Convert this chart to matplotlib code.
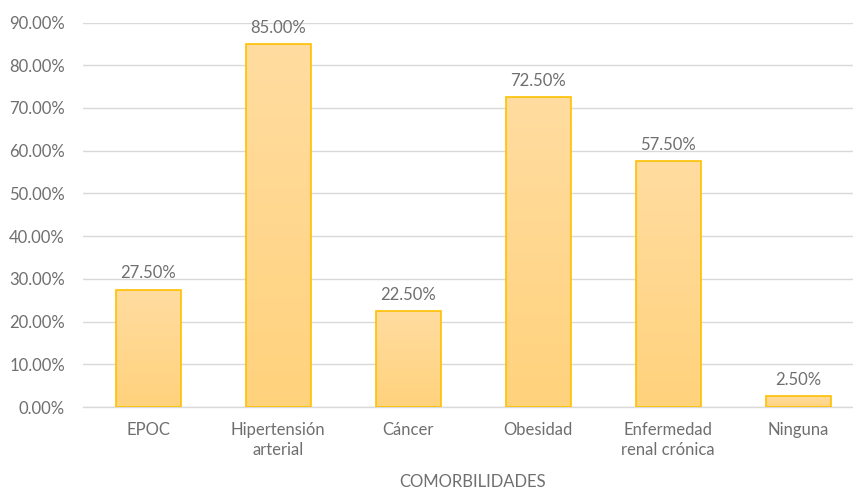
import numpy as np
import matplotlib
matplotlib.use("Agg")
import matplotlib.pyplot as plt
from matplotlib.colors import LinearSegmentedColormap

categories = ["EPOC", "Hipertensión\narterial", "Cáncer", "Obesidad",
              "Enfermedad\nrenal crónica", "Ninguna"]
values = [27.5, 85.0, 22.5, 72.5, 57.5, 2.5]
yticks = [0, 10, 20, 30, 40, 50, 60, 70, 80, 90]
xlabel = "COMORBILIDADES"

plt.rcParams["font.family"] = ["Lato", "DejaVu Sans"]
text_color = "#6F6F6F"
fs = 12

fig = plt.figure(figsize=(8.54, 4.91), dpi=100)
ax = fig.add_axes([83 / 854, 84 / 491, 780 / 854, 384.5 / 491])

x = np.arange(len(categories))
width = 0.5
cmap = LinearSegmentedColormap.from_list("bar", ["#FFD27C", "#FFDCA0"])
grad = np.linspace(0, 1, 256).reshape(-1, 1)

bars = ax.bar(x, values, width=width, color="none", edgecolor="#FFC000",
              linewidth=1.2, zorder=3)
for b in bars:
    x0, y0 = b.get_x(), b.get_y()
    w, h = b.get_width(), b.get_height()
    im = ax.imshow(grad, cmap=cmap, origin="lower", aspect="auto",
                   extent=[x0, x0 + w, y0, y0 + h], zorder=2)
    im.set_clip_path(b)

for xi, v in zip(x, values):
    ax.text(xi, v + 1.9, f"{v:.2f}%", ha="center", va="bottom",
            fontsize=fs, color=text_color)

ax.set_xlim(-0.5, len(categories) - 0.5)
ax.set_ylim(0, 90)
ax.set_yticks(yticks)
ax.set_yticklabels([f"{t:.2f}%" for t in yticks])
ax.set_xticks(x)
ax.set_xticklabels(categories, linespacing=1.25)
ax.tick_params(axis="both", length=0, colors=text_color, labelsize=fs)
ax.tick_params(axis="y", pad=13)
ax.tick_params(axis="x", pad=11)
ax.yaxis.grid(True, color="#D9D9D9", linewidth=1.0, zorder=0)
ax.set_axisbelow(True)
for side in ["top", "right", "left"]:
    ax.spines[side].set_visible(False)
ax.spines["bottom"].set_color("#D9D9D9")
ax.spines["bottom"].set_linewidth(1.0)

ax.set_xlabel(xlabel, color=text_color, fontsize=fs, labelpad=12)

fig.savefig("out.png", dpi=100)
